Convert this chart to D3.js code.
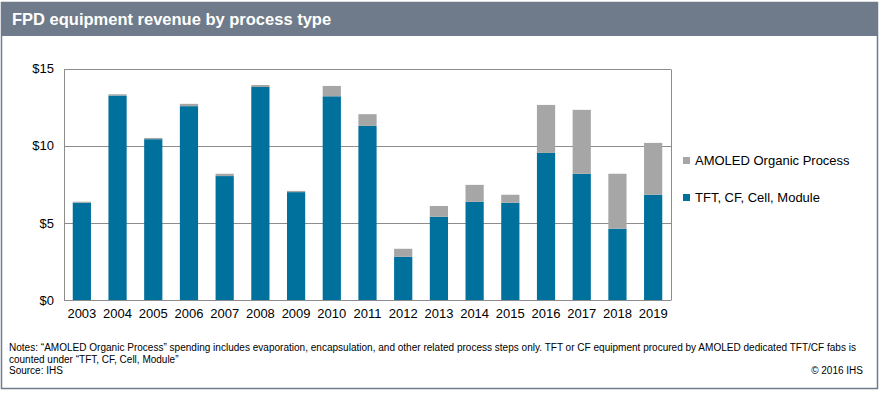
<!DOCTYPE html>
<html>
<head>
<meta charset="utf-8"/>
<script src="https://cdn.jsdelivr.net/npm/d3@7"></script>
<title>FPD equipment revenue by process type</title>
<style>
body { margin: 0; background: #fff; }
svg { display: block; font-family: Arial, "Liberation Sans", sans-serif; }
</style>
</head>
<body>
<script>
// data (US$ billions)
var years = ["2003","2004","2005","2006","2007","2008","2009","2010","2011","2012","2013","2014","2015","2016","2017","2018","2019"];
var tftCfCell = [6.3,13.25,10.42,12.56,8.03,13.8,6.99,13.2,11.28,2.8,5.39,6.36,6.3,9.53,8.18,4.62,6.82];
var amoledOrganic = [0.07,0.08,0.08,0.15,0.15,0.13,0.08,0.67,0.76,0.52,0.7,1.1,0.52,3.11,4.14,3.56,3.36];
var yTicks = [0,5,10,15];
var seriesNames = ["TFT, CF, Cell, Module","AMOLED Organic Process"];
var colors = ["#00709c","#a6a6a6"];

var W = 886, H = 395;
var svg = d3.select("body").append("svg").attr("width", W).attr("height", H);

//frame + title bar
svg.append("rect").attr("x",1.5).attr("y",2.5).attr("width",876).attr("height",386)
	.attr("fill","#fff").attr("stroke","#6f7b8a").attr("stroke-width",1.5);
svg.append("rect").attr("x",1).attr("y",2).attr("width",877).attr("height",34).attr("fill","#6f7b8a");
svg.append("text").attr("x",12).attr("y",25).attr("fill","#fff")
	.style("font-size","16.5px").style("font-weight","bold")
	.text("FPD equipment revenue by process type");

var plot = {left:64, right:671, top:68.5, bottom:300};
var x = d3.scaleBand().domain(years).range([plot.left, plot.right]).paddingInner(0.49).paddingOuter(0.245);
var y = d3.scaleLinear().domain([0,15]).range([plot.bottom, plot.top]);

//gridlines
svg.append("g").selectAll("line").data(yTicks).enter().append("line")
	.attr("x1",plot.left).attr("x2",plot.right)
	.attr("y1",function(d){return Math.round(y(d))+0.5;}).attr("y2",function(d){return Math.round(y(d))+0.5;})
	.attr("stroke","#8c8c8c").attr("stroke-width",1);
//plot border right + left
svg.append("line").attr("x1",plot.left+0.5).attr("x2",plot.left+0.5).attr("y1",Math.round(plot.top)+0.5).attr("y2",plot.bottom+0.5).attr("stroke","#8c8c8c");
svg.append("line").attr("x1",plot.right+0.5).attr("x2",plot.right+0.5).attr("y1",Math.round(plot.top)+0.5).attr("y2",plot.bottom+0.5).attr("stroke","#8c8c8c");

//stack
var rows = years.map(function(yr,i){ return {year:yr, tft:tftCfCell[i], amoled:amoledOrganic[i]}; });
var stack = d3.stack().keys(["tft","amoled"])(rows);

svg.append("g").selectAll("g").data(stack).enter().append("g")
	.attr("fill",function(d,i){return colors[i];})
	.selectAll("rect").data(function(d){return d;}).enter().append("rect")
	.attr("x",function(d){return x(d.data.year);})
	.attr("width",x.bandwidth())
	.attr("y",function(d){return y(d[1]);})
	.attr("height",function(d){return y(d[0])-y(d[1]);});

//axes
var yAxis = d3.axisLeft(y).tickValues(yTicks).tickSize(0).tickPadding(10).tickFormat(function(d){return "$"+d;});
var gy = svg.append("g").attr("transform","translate("+plot.left+",0)").call(yAxis);
gy.select(".domain").remove();
gy.selectAll("text").style("font-size","13px").attr("fill","#000");

var xAxis = d3.axisBottom(x).tickSize(0).tickPadding(9);
var gx = svg.append("g").attr("transform","translate(0,"+plot.bottom+")").call(xAxis);
gx.select(".domain").attr("stroke","#8c8c8c").attr("d","M"+plot.left+",0.5H"+plot.right);
gx.selectAll("text").style("font-size","13px").attr("fill","#000");

//legend (AMOLED listed first)
var legend = svg.append("g").selectAll("g").data([1,0]).enter().append("g")
	.attr("transform",function(d,i){return "translate(683,"+(160+i*37)+")";});
legend.append("rect").attr("x",0).attr("y",-3).attr("width",7).attr("height",7)
	.attr("fill",function(d){return colors[d];});
legend.append("text").attr("x",12).attr("y",5).style("font-size","13px")
	.text(function(d){return seriesNames[d];});

//notes
var notes = svg.append("g").style("font-size","10px").attr("fill","#000");
notes.append("text").attr("x",9).attr("y",351).attr("textLength",847).attr("lengthAdjust","spacingAndGlyphs")
	.text("Notes: \u201cAMOLED Organic Process\u201d spending includes evaporation, encapsulation, and other related process steps only. TFT or CF equipment procured by AMOLED dedicated TFT/CF fabs is");
notes.append("text").attr("x",9).attr("y",363).text("counted under \u201cTFT, CF, Cell, Module\u201d");
notes.append("text").attr("x",9).attr("y",374).text("Source: IHS");
notes.append("text").attr("x",863).attr("y",374).attr("text-anchor","end").text("\u00a9 2016 IHS");
</script>
</body>
</html>
